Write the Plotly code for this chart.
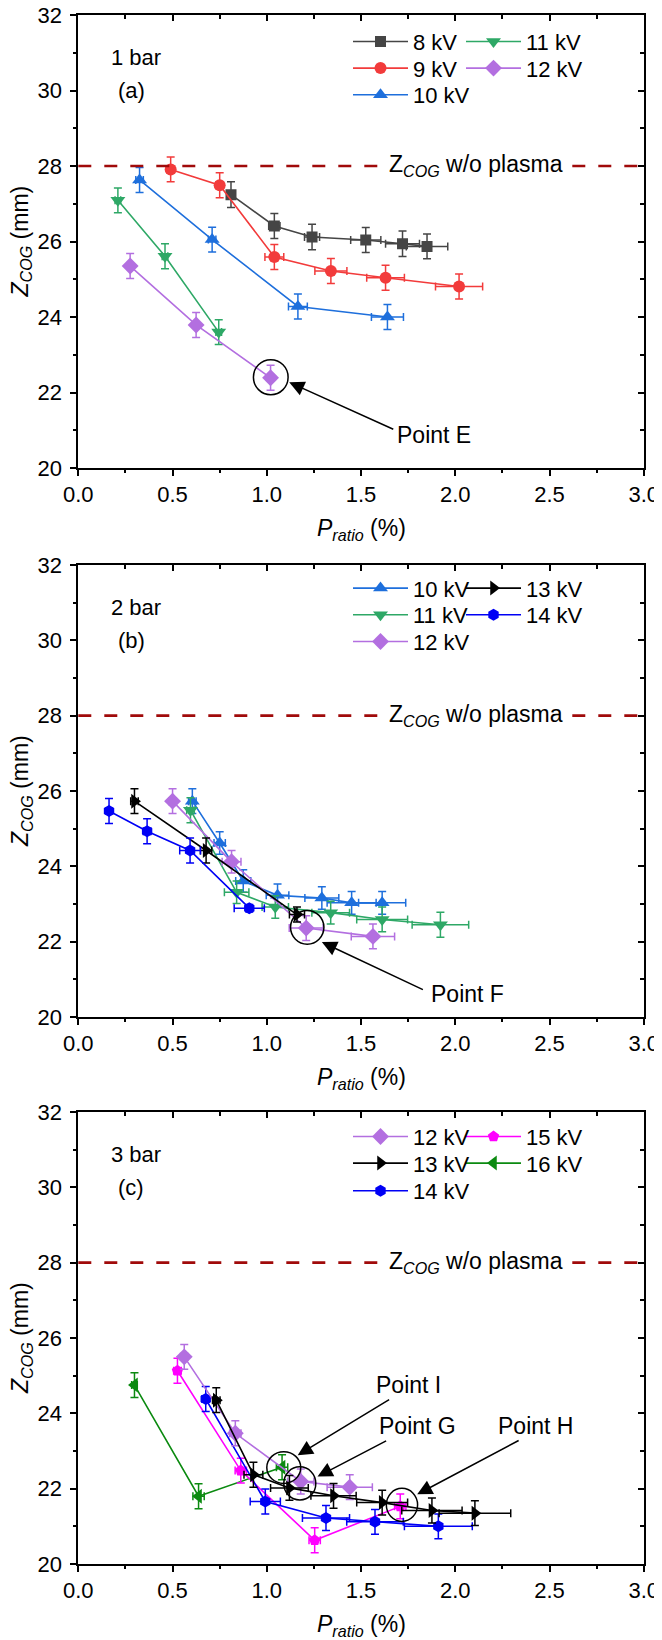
import plotly.graph_objects as go

# ---------------- data ----------------
# Panel (a) 1 bar
a8_x = [0.81, 1.04, 1.24, 1.525, 1.72, 1.85]
a8_y = [27.24, 26.41, 26.12, 26.04, 25.94, 25.87]
a8_ex = [0.02, 0.03, 0.04, 0.08, 0.09, 0.11]
a8_ey = [0.34, 0.33, 0.34, 0.33, 0.34, 0.33]

a9_x = [0.49, 0.75, 1.04, 1.34, 1.63, 2.02]
a9_y = [27.91, 27.49, 25.59, 25.22, 25.04, 24.81]
a9_ex = [0.02, 0.02, 0.05, 0.085, 0.10, 0.125]
a9_ey = [0.33, 0.33, 0.33, 0.33, 0.33, 0.33]

a10_x = [0.325, 0.71, 1.165, 1.64]
a10_y = [27.63, 26.05, 24.28, 24.00]
a10_ex = [0.02, 0.02, 0.05, 0.085]
a10_ey = [0.33, 0.33, 0.33, 0.33]

a11_x = [0.21, 0.46, 0.745]
a11_y = [27.09, 25.61, 23.60]
a11_ex = [0.015, 0.015, 0.015]
a11_ey = [0.33, 0.33, 0.33]

a12_x = [0.275, 0.625, 1.02]
a12_y = [25.35, 23.79, 22.39]
a12_ex = [0.015, 0.015, 0.015]
a12_ey = [0.33, 0.33, 0.33]

# Panel (b) 2 bar
b10_x = [0.605, 0.75, 0.875, 1.057, 1.292, 1.45, 1.612]
b10_y = [25.73, 24.62, 23.61, 23.23, 23.16, 23.03, 23.03]
b10_ex = [0.02, 0.03, 0.04, 0.06, 0.09, 0.13, 0.125]
b10_ey = [0.33, 0.30, 0.30, 0.30, 0.30, 0.30, 0.30]

b11_x = [0.595, 0.84, 1.045, 1.339, 1.612, 1.921]
b11_y = [25.49, 23.31, 22.92, 22.77, 22.59, 22.45]
b11_ex = [0.02, 0.065, 0.07, 0.10, 0.135, 0.15]
b11_ey = [0.33, 0.30, 0.30, 0.30, 0.33, 0.33]

b12_x = [0.50, 0.813, 1.209, 1.563]
b12_y = [25.73, 24.12, 22.36, 22.14]
b12_ex = [0.02, 0.05, 0.09, 0.115]
b12_ey = [0.33, 0.30, 0.33, 0.33]

b13_x = [0.298, 0.678, 1.16]
b13_y = [25.73, 24.42, 22.72]
b13_ex = [0.02, 0.03, 0.04]
b13_ey = [0.33, 0.33, 0.20]

b14_x = [0.163, 0.365, 0.593, 0.907]
b14_y = [25.47, 24.93, 24.42, 22.89]
b14_ex = [0.015, 0.02, 0.055, 0.08]
b14_ey = [0.33, 0.33, 0.33, 0.10]

# Panel (c) 3 bar
c12_x = [0.562, 0.833, 1.18, 1.44]
c12_y = [25.50, 23.47, 22.19, 22.04]
c12_ex = [0.02, 0.03, 0.07, 0.12]
c12_ey = [0.33, 0.33, 0.33, 0.33]

c13_x = [0.732, 0.929, 1.12, 1.354, 1.612, 1.876, 2.104]
c13_y = [24.35, 22.37, 22.02, 21.81, 21.63, 21.42, 21.35]
c13_ex = [0.02, 0.05, 0.10, 0.12, 0.135, 0.16, 0.19]
c13_ey = [0.33, 0.33, 0.33, 0.33, 0.33, 0.33, 0.33]

c14_x = [0.676, 0.992, 1.314, 1.574, 1.91]
c14_y = [24.38, 21.66, 21.22, 21.12, 21.00]
c14_ex = [0.02, 0.08, 0.125, 0.15, 0.18]
c14_ey = [0.33, 0.33, 0.33, 0.33, 0.33]

c15_x = [0.526, 0.862, 1.254, 1.708]
c15_y = [25.13, 22.48, 20.63, 21.53]
c15_ex = [0.02, 0.03, 0.03, 0.03]
c15_ey = [0.33, 0.33, 0.33, 0.33]

c16_x = [0.298, 0.638, 1.081]
c16_y = [24.75, 21.80, 22.57]
c16_ex = [0.015, 0.03, 0.03]
c16_ey = [0.33, 0.33, 0.33]

z_ref = 28.0

panel_labels = ["1 bar", "2 bar", "3 bar"]
panel_letters = ["(a)", "(b)", "(c)"]

# annotation circles (panel, x0, x1, y0, y1)
circles = [
    (0, 0.929, 1.113, 21.94, 22.87),
    (1, 1.126, 1.303, 21.93, 22.83),
    (2, 1.00, 1.18, 22.14, 22.98),
    (2, 1.09, 1.26, 21.70, 22.58),
    (2, 1.634, 1.80, 21.13, 22.01),
]
# arrows (panel, tail x, tail y, tip x, tip y)
arrows = [
    (0, 1.679, 21.01, 1.119, 22.27),
    (1, 1.836, 20.71, 1.292, 21.99),
    (2, 1.657, 24.39, 1.164, 22.89),
    (2, 1.641, 23.29, 1.269, 22.32),
    (2, 2.344, 23.30, 1.798, 21.85),
]
# point labels (panel, text, x, y)
point_labels = [
    (0, "Point E", 1.885, 20.88),
    (1, "Point F", 2.064, 20.62),
    (2, "Point I", 1.751, 24.75),
    (2, "Point G", 1.802, 23.66),
    (2, "Point H", 2.424, 23.66),
]

# ---------------- styles ----------------
FONT = "Liberation Sans, Arial, sans-serif"
C = {
    8: "#454545", 9: "#F23B3B", 10: "#1E6FDC", 11: "#2EA866", 12: "#B36FE0",
    13: "#000000", 14: "#0000F5", 15: "#FF00FF", 16: "#0B8A10",
}
SYM = {
    8: "square", 9: "circle", 10: "triangle-up", 11: "triangle-down", 12: "diamond",
    13: "triangle-right", 14: "hexagon", 15: "pentagon", 16: "triangle-left",
}
MSIZE = {8: 11, 9: 12, 10: 13, 11: 13, 12: 13, 13: 13, 14: 12, 15: 12, 16: 13}

# page is 662x1640; the html body has an 8px margin, so the figure is offset by 8px
OFF = 8
W, H = 662 - OFF, 1640 - OFF


def px_x(px):
    return (px - OFF) / W


def px_y(py):
    return 1 - (py - OFF) / H


xd = [px_x(78.3), px_x(643.8)]
ytops = [15, 565, 1112]
ybots = [468, 1017, 1564]
ydoms = [[px_y(b), px_y(t)] for t, b in zip(ytops, ybots)]

# legend slot layout: row offsets per panel, column origins (page px)
row_off = [[26.7, 53.3, 80.0], [23.3, 50.0, 76.7], [24.7, 51.3, 79.0]]
col_x = [348, 461]

fig = go.Figure()

series = [
    # panel, kV, x, y, ex, ey, (col,row)
    (0, 8, a8_x, a8_y, a8_ex, a8_ey, (0, 0)),
    (0, 9, a9_x, a9_y, a9_ex, a9_ey, (0, 1)),
    (0, 10, a10_x, a10_y, a10_ex, a10_ey, (0, 2)),
    (0, 11, a11_x, a11_y, a11_ex, a11_ey, (1, 0)),
    (0, 12, a12_x, a12_y, a12_ex, a12_ey, (1, 1)),
    (1, 10, b10_x, b10_y, b10_ex, b10_ey, (0, 0)),
    (1, 11, b11_x, b11_y, b11_ex, b11_ey, (0, 1)),
    (1, 12, b12_x, b12_y, b12_ex, b12_ey, (0, 2)),
    (1, 13, b13_x, b13_y, b13_ex, b13_ey, (1, 0)),
    (1, 14, b14_x, b14_y, b14_ex, b14_ey, (1, 1)),
    (2, 16, c16_x, c16_y, c16_ex, c16_ey, (1, 1)),
    (2, 15, c15_x, c15_y, c15_ex, c15_ey, (1, 0)),
    (2, 14, c14_x, c14_y, c14_ex, c14_ey, (0, 2)),
    (2, 12, c12_x, c12_y, c12_ex, c12_ey, (0, 0)),
    (2, 13, c13_x, c13_y, c13_ex, c13_ey, (0, 1)),
]

layout = dict(
    width=W, height=H, margin=dict(l=0, r=0, t=0, b=0),
    paper_bgcolor="white", plot_bgcolor="white",
    font=dict(family=FONT, size=22, color="black"),
)

leg_font = dict(family=FONT, size=22, color="black")
for i, (p, kv, xs, ys, ex, ey, (cc, rr)) in enumerate(series):
    col = C[kv]
    lg = "legend" if i == 0 else f"legend{i+1}"
    fig.add_trace(go.Scatter(
        x=xs, y=ys, mode="lines+markers", name=f"{kv} kV",
        xaxis="x" if p == 0 else f"x{p+1}", yaxis="y" if p == 0 else f"y{p+1}",
        line=dict(color=col, width=1.6),
        marker=dict(symbol=SYM[kv], size=MSIZE[kv], color=col, line=dict(width=0)),
        error_x=dict(type="data", array=ex, color=col, thickness=1.5, width=4, visible=True),
        error_y=dict(type="data", array=ey, color=col, thickness=1.5, width=4, visible=True),
        legend=lg, showlegend=True,
    ))
    ypx = ytops[p] + row_off[p][rr]
    layout[lg] = dict(
        x=px_x(col_x[cc]), y=px_y(ypx), xanchor="left", yanchor="middle",
        bgcolor="rgba(0,0,0,0)", borderwidth=0, font=leg_font,
        itemwidth=55, tracegroupgap=0, orientation="v",
    )

axis_font = dict(family=FONT, size=22, color="black")
for p in range(3):
    sx = "" if p == 0 else str(p + 1)
    layout[f"xaxis{sx}"] = dict(
        domain=xd, range=[0, 3], dtick=0.5, tick0=0, tickformat=".1f",
        anchor=f"y{sx}", showgrid=False, zeroline=False,
        showline=True, linecolor="black", linewidth=1.8, mirror=True,
        ticks="outside", ticklen=6, tickwidth=1.5, tickcolor="black",
        minor=dict(dtick=0.25, ticks="outside", ticklen=3.5, tickwidth=1.5, tickcolor="black"),
        tickfont=axis_font, automargin=False, ticklabeloverflow="allow",
    )
    layout[f"yaxis{sx}"] = dict(
        domain=ydoms[p], range=[20, 32], dtick=2, tick0=20,
        anchor=f"x{sx}", showgrid=False, zeroline=False,
        showline=True, linecolor="black", linewidth=1.8, mirror=True,
        ticks="outside", ticklen=6, tickwidth=1.5, tickcolor="black",
        minor=dict(dtick=1, ticks="outside", ticklen=3.5, tickwidth=1.5, tickcolor="black"),
        tickfont=axis_font, automargin=False, ticklabelstandoff=4, ticklabeloverflow="allow",
    )
    # inside ticks on top / right
    layout[f"xaxis{p+4}"] = dict(
        overlaying=f"x{sx}", side="top", anchor=f"y{sx}", range=[0, 3], dtick=0.5, tick0=0,
        showticklabels=False, showgrid=False, zeroline=False, showline=False,
        ticks="inside", ticklen=6, tickwidth=1.5, tickcolor="black",
        minor=dict(dtick=0.25, ticks="inside", ticklen=3.5, tickwidth=1.5, tickcolor="black"),
    )
    layout[f"yaxis{p+4}"] = dict(
        overlaying=f"y{sx}", side="right", anchor=f"x{sx}", range=[20, 32], dtick=2, tick0=20,
        showticklabels=False, showgrid=False, zeroline=False, showline=False,
        ticks="inside", ticklen=6, tickwidth=1.5, tickcolor="black",
        minor=dict(dtick=1, ticks="inside", ticklen=3.5, tickwidth=1.5, tickcolor="black"),
    )

fig.update_layout(**layout)

# placeholder traces so overlay axes render
for p in range(3):
    fig.add_trace(go.Scatter(x=[None], y=[None], xaxis=f"x{p+4}", yaxis=f"y{p+4}",
                             showlegend=False, hoverinfo="skip"))

shapes = []
annotations = []
for p in range(3):
    sx = "" if p == 0 else str(p + 1)
    shapes.append(dict(type="line", xref=f"x{sx} domain", yref=f"y{sx}", x0=0, x1=1,
                       y0=z_ref, y1=z_ref, line=dict(color="#A00A0A", width=2.6, dash="13px,13px"),
                       layer="above"))
    annotations.append(dict(xref=f"x{sx}", yref=f"y{sx}", x=2.11, y=z_ref,
                            text="Z<sub><i>COG</i></sub> w/o plasma", showarrow=False,
                            bgcolor="white", borderpad=5, font=dict(family=FONT, size=23, color="black")))
    annotations.append(dict(xref=f"x{sx}", yref=f"y{sx}", x=0.163, y=30.87, xanchor="left",
                            text=panel_labels[p], showarrow=False, font=dict(family=FONT, size=22)))
    annotations.append(dict(xref=f"x{sx}", yref=f"y{sx}", x=0.20, y=30.0, xanchor="left",
                            text=panel_letters[p], showarrow=False, font=dict(family=FONT, size=22)))
    # axis titles
    annotations.append(dict(xref=f"x{sx} domain", yref=f"y{sx} domain", x=0.5, y=0, yanchor="middle",
                            yshift=-61, text="<i>P</i><sub><i>ratio</i></sub> (%)", showarrow=False,
                            font=dict(family=FONT, size=23)))
    annotations.append(dict(xref="paper", yref=f"y{sx} domain", x=px_x(21), y=0.5, xanchor="center",
                            yanchor="middle", textangle=-90,
                            text="<i>Z</i><sub><i>COG</i></sub> (mm)", showarrow=False,
                            font=dict(family=FONT, size=23)))

for p, x0, x1, y0, y1 in circles:
    sx = "" if p == 0 else str(p + 1)
    shapes.append(dict(type="circle", xref=f"x{sx}", yref=f"y{sx}", x0=x0, x1=x1, y0=y0, y1=y1,
                       line=dict(color="black", width=1.5), layer="above"))

for p, tx, ty, hx, hy in arrows:
    sx = "" if p == 0 else str(p + 1)
    annotations.append(dict(xref=f"x{sx}", yref=f"y{sx}", axref=f"x{sx}", ayref=f"y{sx}",
                            x=hx, y=hy, ax=tx, ay=ty, text="", showarrow=True,
                            arrowhead=2, arrowsize=2.0, arrowwidth=1.5, arrowcolor="black"))

for p, t, x, y in point_labels:
    sx = "" if p == 0 else str(p + 1)
    annotations.append(dict(xref=f"x{sx}", yref=f"y{sx}", x=x, y=y, text=t, showarrow=False,
                            font=dict(family=FONT, size=23, color="black")))

fig.update_layout(shapes=shapes, annotations=annotations)
fig.write_html("out.html")
